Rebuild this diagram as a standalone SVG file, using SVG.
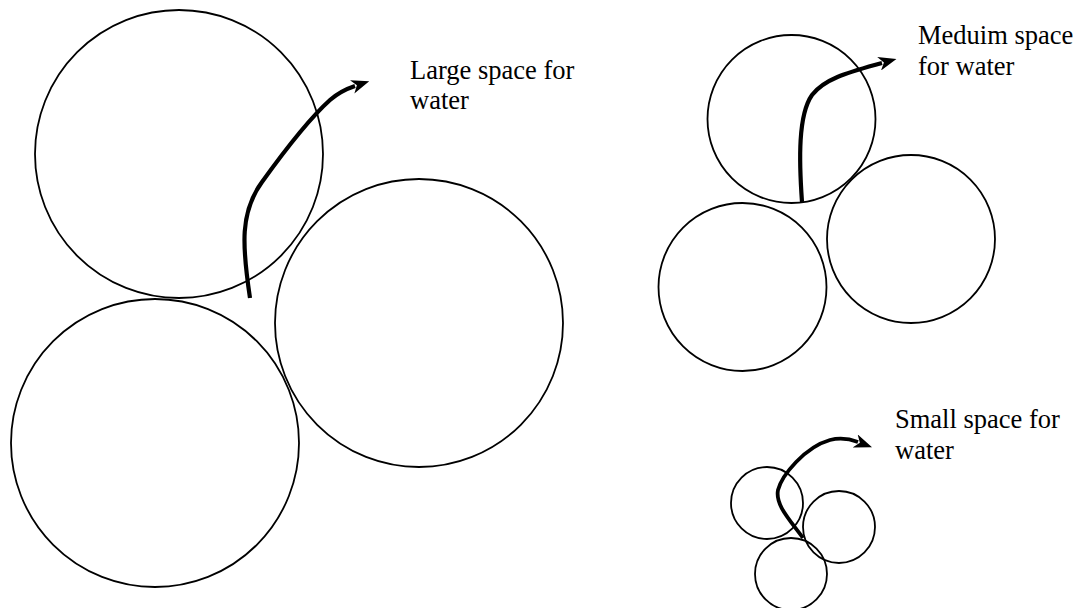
<svg xmlns="http://www.w3.org/2000/svg" width="1079" height="608" viewBox="0 0 1079 608">
<style>
.c{fill:none;stroke:#000;stroke-width:1.8}
.a{fill:none;stroke:#000;stroke-width:4.2;stroke-linecap:butt;marker-end:url(#ah)}
.t{font-family:"Liberation Serif","Times New Roman",serif;font-size:26.5px;fill:#000}
</style>
<defs>
<marker id="ah" markerUnits="userSpaceOnUse" viewBox="0 0 18 14" refX="3" refY="7" markerWidth="18" markerHeight="14" orient="auto">
<path d="M0,0 L18,7 L0,14 L5,7 z" fill="#000"/>
</marker>
</defs>
<rect width="1079" height="608" fill="#fff"/>
<g id="large-top"><circle class="c" cx="179" cy="154" r="144"/></g>
<g id="large-bottom"><circle class="c" cx="155" cy="443" r="144"/></g>
<g id="large-right"><circle class="c" cx="419" cy="323" r="144"/></g>
<g id="medium-top"><circle class="c" cx="791.5" cy="119" r="84"/></g>
<g id="medium-left"><circle class="c" cx="742.5" cy="287" r="84"/></g>
<g id="medium-right"><circle class="c" cx="911" cy="239" r="84"/></g>
<g id="small-left"><circle class="c" cx="767" cy="503" r="36"/></g>
<g id="small-right"><circle class="c" cx="839" cy="527" r="36"/></g>
<g id="small-bottom"><circle class="c" cx="791" cy="574" r="36"/></g>
<g id="connectors">
<path class="a" d="M250,298 C242,245 240,212 262,182 C285,150 310,118 330,100 C338,93 346,89 355,86"/>
<path class="a" d="M802,202 C799,160 798,115 812,95 C825,78 850,72 882,63"/>
<path class="a" style="stroke-width:3.8" d="M803,538 C790,520 775,505 778,490 C782,475 805,447 830,440 C842,437 850,439 858,442"/>
</g>
<g id="label-large"><text class="t" x="410" y="79">Large space for</text><text class="t" x="410" y="109">water</text></g>
<g id="label-medium"><text class="t" x="918" y="44">Meduim space</text><text class="t" x="918" y="75">for water</text></g>
<g id="label-small"><text class="t" x="895" y="428">Small space for</text><text class="t" x="895" y="459">water</text></g>
</svg>
